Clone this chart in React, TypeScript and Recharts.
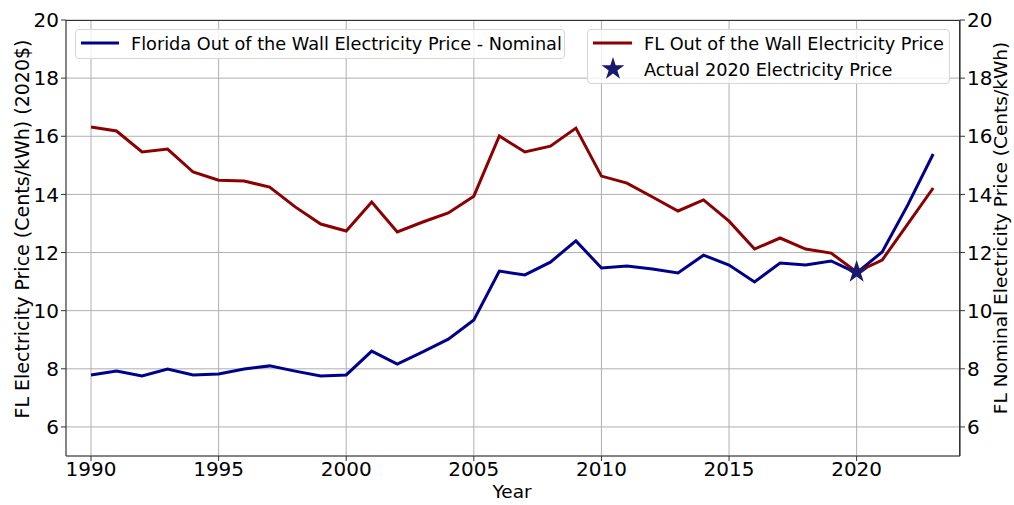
import React from 'react';
import { ComposedChart, Line, Scatter, XAxis, YAxis, CartesianGrid } from 'recharts';

const years = [1990,1991,1992,1993,1994,1995,1996,1997,1998,1999,2000,2001,2002,2003,2004,2005,2006,2007,2008,2009,2010,2011,2012,2013,2014,2015,2016,2017,2018,2019,2020,2021,2022,2023];
const realPrice = [16.32,16.18,15.46,15.56,14.77,14.49,14.46,14.25,13.57,12.98,12.74,13.74,12.71,13.05,13.36,13.94,16.01,15.46,15.66,16.28,14.63,14.39,13.91,13.43,13.81,13.08,12.12,12.50,12.12,11.98,11.33,11.74,12.98,14.22];
const nominalPrice = [7.79,7.92,7.75,7.99,7.79,7.82,7.99,8.10,7.92,7.75,7.79,8.61,8.16,8.58,9.02,9.68,11.36,11.23,11.67,12.40,11.47,11.54,11.43,11.30,11.91,11.57,10.99,11.64,11.57,11.71,11.30,12.02,13.63,15.39];
const actualYear = [2020];
const actualPrice = [11.33];
const xTicks = [1990,1995,2000,2005,2010,2015,2020];
const yTicks = [6,8,10,12,14,16,18,20];

const data = years.map((y, i) => ({ year: y, real: realPrice[i], nominal: nominalPrice[i] }));
const starData = actualYear.map((y, i) => ({ year: y, star: actualPrice[i] }));

const FONT = 'DejaVu Sans, sans-serif';
const BLUE = '#00008b';
const RED = '#8b0000';
const STAR = '#191970';

const starPoints = (cx: number, cy: number, R: number) => {
  const r = R * 0.382;
  const pts: string[] = [];
  for (let k = 0; k < 10; k++) {
    const a = -Math.PI / 2 + (k * Math.PI) / 5;
    const rr = k % 2 === 0 ? R : r;
    pts.push(`${cx + rr * Math.cos(a)},${cy + rr * Math.sin(a)}`);
  }
  return pts.join(' ');
};

const StarShape = (props: any) => {
  const { cx, cy } = props;
  if (cx == null || cy == null) return null;
  return <polygon points={starPoints(cx, cy, 12)} fill={STAR} />;
};

const tickStyle = { fontSize: 20, fill: '#000', fontFamily: FONT };

export default function App() {
  return (
    <div style={{ position: 'absolute', left: 0, top: 0, width: 1014, height: 505, background: '#fff', fontFamily: FONT }}>
      <ComposedChart width={1014} height={505} data={data} margin={{ top: 20, right: 0, left: 0, bottom: 0 }}>
        <CartesianGrid yAxisId="left" stroke="#b0b0b0" strokeWidth={1} />
        <XAxis
          dataKey="year"
          type="number"
          domain={[1989.02, 2024.05]}
          ticks={xTicks}
          allowDataOverflow
          height={49}
          tick={tickStyle}
          tickSize={5}
          tickMargin={1}
          stroke="#333"
          tickLine={{ stroke: '#333' }}
        />
        <YAxis
          yAxisId="left"
          domain={[5, 20]}
          ticks={yTicks}
          allowDataOverflow
          width={66}
          tick={tickStyle}
          tickSize={5}
          tickMargin={2}
          stroke="#333"
        />
        <YAxis
          yAxisId="right"
          orientation="right"
          domain={[5, 20]}
          ticks={yTicks}
          allowDataOverflow
          width={54}
          tick={tickStyle}
          tickSize={5}
          tickMargin={2}
          stroke="#333"
        />
        <Line yAxisId="left" dataKey="nominal" stroke={BLUE} strokeWidth={3} dot={false} isAnimationActive={false} />
        <Line yAxisId="right" dataKey="real" stroke={RED} strokeWidth={3} dot={false} isAnimationActive={false} />
        <Scatter yAxisId="left" data={starData} dataKey="star" shape={StarShape} isAnimationActive={false} />
      </ComposedChart>

      {/* top and right frame */}
      <div style={{ position: 'absolute', left: 66, top: 20, width: 894, height: 436, borderTop: '1px solid #333', borderRight: '1px solid #333', boxSizing: 'border-box', pointerEvents: 'none' }} />

      {/* axis titles */}
      <div style={{ position: 'absolute', left: 462, top: 480, width: 100, textAlign: 'center', fontSize: 18.5, lineHeight: '24px' }}>Year</div>
      <div style={{ position: 'absolute', left: 22, top: 229, transform: 'translate(-50%, -50%) rotate(-90deg)', whiteSpace: 'nowrap', fontSize: 19, lineHeight: '24px' }}>
        FL Electricity Price (Cents/kWh) (2020$)
      </div>
      <div style={{ position: 'absolute', left: 1001, top: 228, transform: 'translate(-50%, -50%) rotate(-90deg)', whiteSpace: 'nowrap', fontSize: 18.5, lineHeight: '24px' }}>
        FL Nominal Electricity Price (Cents/kWh)
      </div>

      {/* left legend */}
      <div style={{ position: 'absolute', left: 75, top: 29, width: 490, height: 30, boxSizing: 'border-box', border: '1px solid #d5d5d5', borderRadius: 4, background: 'rgba(255,255,255,0.8)' }}>
        <svg width={44} height={30} style={{ position: 'absolute', left: 0, top: -1 }}>
          <line x1={5} y1={14} x2={43} y2={14} stroke={BLUE} strokeWidth={3} />
        </svg>
        <div style={{ position: 'absolute', left: 55, top: 2, fontSize: 17.7, lineHeight: '24px', whiteSpace: 'nowrap' }}>Florida Out of the Wall Electricity Price - Nominal</div>
      </div>

      {/* right legend */}
      <div style={{ position: 'absolute', left: 587, top: 29, width: 363, height: 55, boxSizing: 'border-box', border: '1px solid #d5d5d5', borderRadius: 4, background: 'rgba(255,255,255,0.8)' }}>
        <svg width={50} height={55} style={{ position: 'absolute', left: 0, top: -1 }}>
          <line x1={5} y1={14} x2={44} y2={14} stroke={RED} strokeWidth={3} />
          <polygon points={starPoints(25, 40, 12)} fill={STAR} />
        </svg>
        <div style={{ position: 'absolute', left: 56, top: 2, fontSize: 17.7, lineHeight: '24px', whiteSpace: 'nowrap' }}>FL Out of the Wall Electricity Price</div>
        <div style={{ position: 'absolute', left: 56, top: 28, fontSize: 17.7, lineHeight: '24px', whiteSpace: 'nowrap' }}>Actual 2020 Electricity Price</div>
      </div>
    </div>
  );
}
